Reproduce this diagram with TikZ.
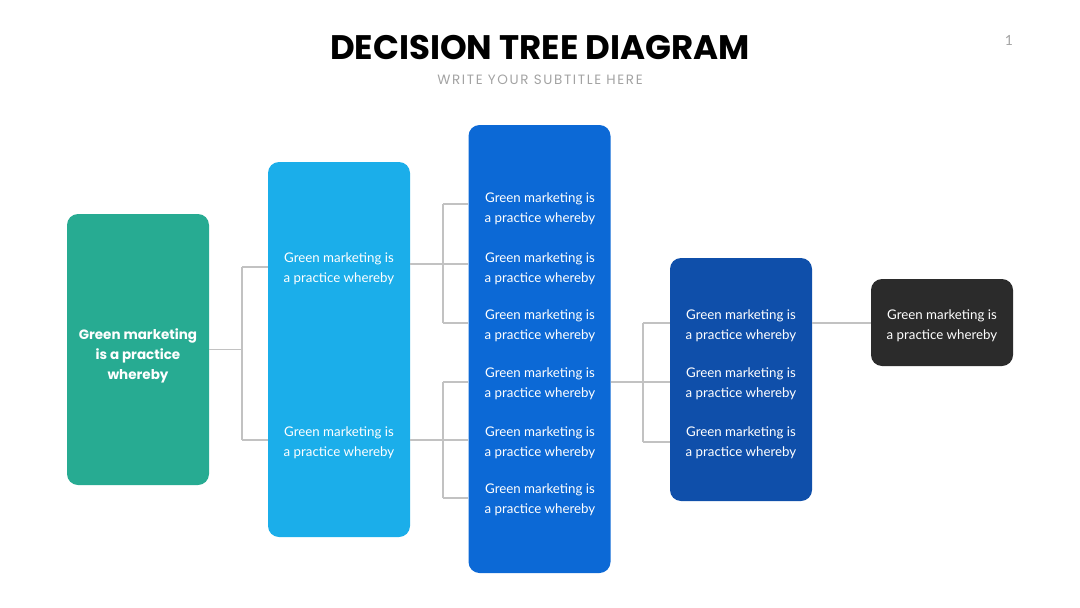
\documentclass[tikz,border=0pt]{standalone}
\usepackage{fontspec}
\setmainfont{Lato}
\newfontfamily\pop{Poppins}
\definecolor{cgreen}{HTML}{27AB92}
\definecolor{clight}{HTML}{1BAEEA}
\definecolor{cblue}{HTML}{0C69D6}
\definecolor{cdark}{HTML}{0F4FAA}
\definecolor{cblack}{HTML}{2B2B2B}
\definecolor{cline}{HTML}{C2C2C2}
\definecolor{csub}{HTML}{A3A3A3}
\begin{document}
\begin{tikzpicture}[x=1pt,y=-1pt,
  box/.style={rounded corners=11pt, inner sep=0pt, minimum width=142pt},
  txt/.style={text=white, font=\fontsize{13.3}{20}\selectfont, align=center, inner sep=0pt},
  conn/.style={draw=cline, line width=1.5pt}]
\useasboundingbox (0,0) rectangle (1080,608);
% title
\node[font=\pop\bfseries\fontsize{34}{40}\selectfont] (title) at (540,48) {DECISION TREE DIAGRAM};
\node[font=\pop\fontsize{13.5}{16}\selectfont\addfontfeatures{LetterSpace=12}, text=csub] (sub) at (540,79.5) {WRITE YOUR SUBTITLE HERE};
\node[font=\fontsize{14}{16}\selectfont, text=csub] (pg) at (1009,40) {1};
% boxes
\node[box, fill=cgreen, minimum height=271pt] (g) at (138,349.5) {};
\node[box, fill=clight, minimum height=375pt] (lb) at (339,349.5) {};
\node[box, fill=cblue, minimum height=448pt] (b) at (539.5,349) {};
\node[box, fill=cdark, minimum height=243pt] (d) at (741,379.5) {};
\node[box, fill=cblack, minimum height=87pt] (k) at (942,322.5) {};
% texts
\node[txt, font=\pop\bfseries\fontsize{13.5}{20}\selectfont] (gt) at (138,355.5) {Green marketing\\is a practice\\whereby};
\node[txt] (lt1) at (339,268.5) {Green marketing is\\a practice whereby};
\node[txt] (lt2) at (339,442.5) {Green marketing is\\a practice whereby};
\node[txt] (bt1) at (540,208.5) {Green marketing is\\a practice whereby};
\node[txt] (bt2) at (540,268.5) {Green marketing is\\a practice whereby};
\node[txt] (bt3) at (540,325.5) {Green marketing is\\a practice whereby};
\node[txt] (bt4) at (540,383.5) {Green marketing is\\a practice whereby};
\node[txt] (bt5) at (540,442.5) {Green marketing is\\a practice whereby};
\node[txt] (bt6) at (540,499.5) {Green marketing is\\a practice whereby};
\node[txt] (dt1) at (741,325.5) {Green marketing is\\a practice whereby};
\node[txt] (dt2) at (741,383.5) {Green marketing is\\a practice whereby};
\node[txt] (dt3) at (741,442.5) {Green marketing is\\a practice whereby};
\node[txt] (kt) at (942,325.5) {Green marketing is\\a practice whereby};
% connectors: green -> light blue
\coordinate (a1) at (242,267);
\coordinate (a2) at (242,440);
\draw[conn] (g.east) -- (g.east -| a1);
\draw[conn] (a1) -- (a2);
\draw[conn] (a1) -- (a1 -| lb.west);
\draw[conn] (a2) -- (a2 -| lb.west);
% light blue -> blue (upper)
\coordinate (u0) at (443,264);
\coordinate (u1) at (443,204);
\coordinate (u3) at (443,323);
\draw[conn] (u0 -| lb.east) -- (u0 -| b.west);
\draw[conn] (u1) -- (u3);
\draw[conn] (u1) -- (u1 -| b.west);
\draw[conn] (u3) -- (u3 -| b.west);
% light blue -> blue (lower)
\coordinate (l0) at (443,440);
\coordinate (l1) at (443,382);
\coordinate (l3) at (443,498);
\draw[conn] (l0 -| lb.east) -- (l0 -| b.west);
\draw[conn] (l1) -- (l3);
\draw[conn] (l1) -- (l1 -| b.west);
\draw[conn] (l3) -- (l3 -| b.west);
% blue -> dark blue
\coordinate (m0) at (643,382);
\coordinate (m1) at (643,323);
\coordinate (m3) at (643,442);
\draw[conn] (m0 -| b.east) -- (m0 -| d.west);
\draw[conn] (m1) -- (m3);
\draw[conn] (m1) -- (m1 -| d.west);
\draw[conn] (m3) -- (m3 -| d.west);
% dark blue -> black
\coordinate (n0) at (840,323);
\draw[conn] (n0 -| d.east) -- (n0 -| k.west);
\end{tikzpicture}
\end{document}
